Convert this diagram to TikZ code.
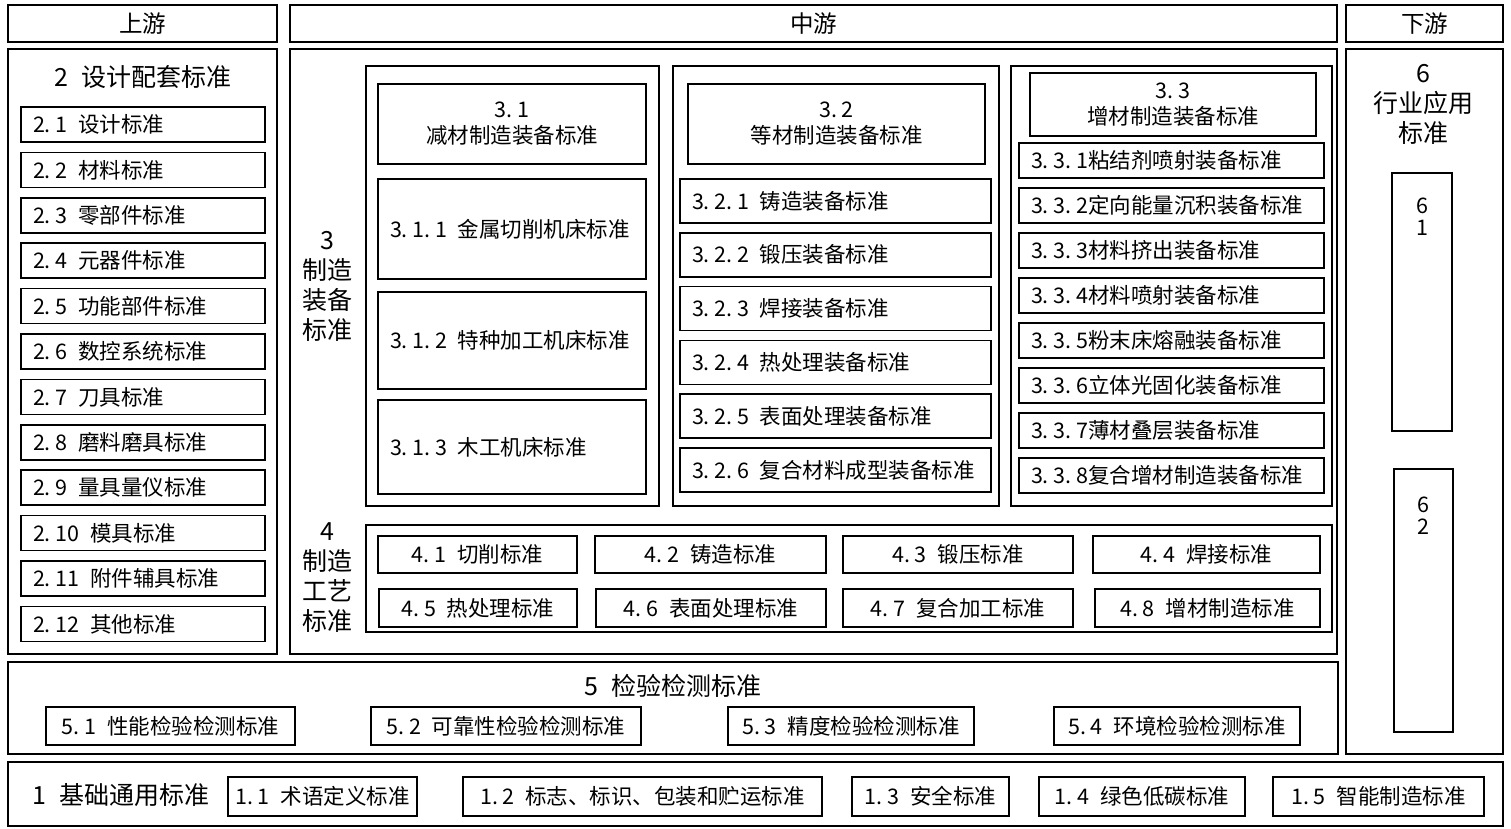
\documentclass[tikz,border=0pt]{standalone}
\usepackage{fontspec}
\setmainfont{Noto Sans CJK SC}
\newcommand{\numgap}{\hspace{0.5em}}
\newcommand{\pdot}{.\hspace{0.22em}}

\begin{document}
\begin{tikzpicture}[x=1pt, y=-1pt,
    frame/.style={draw, line width=2.2pt},
    cell/.style={draw, line width=1.6pt, inner sep=0pt, font=\fontsize{21.5}{26}\selectfont},
    lcell/.style={cell, align=left, inner xsep=12pt, text width=#1},
    head/.style={frame, minimum height=37pt, font=\fontsize{23.5}{28}\selectfont},
    big/.style={font=\fontsize{25}{30}\selectfont, align=center, inner sep=0pt},
    small/.style={font=\fontsize{21.5}{22}\selectfont, align=center, inner sep=0pt, anchor=north}]

    \useasboundingbox (0,0) rectangle (1511,829);

    \node[head, minimum width=269pt] (up) at (142.5,23.5) {上游};
    \node[head, minimum width=1047pt] (mid) at (813.5,23.5) {中游};
    \node[head, minimum width=157pt] (down) at (1424.5,23.5) {下游};

    \draw[frame] (8,49) rectangle (277,654);
    \node[big] (t2) at (143,77) {2\numgap 设计配套标准};
    \foreach \t [count=\i] in {设计标准, 材料标准, 零部件标准, 元器件标准, 功能部件标准, 数控系统标准, 刀具标准, 磨料磨具标准, 量具量仪标准, 模具标准, 附件辅具标准, 其他标准}
        \node[lcell=220pt, minimum height=35pt] (d\i) at (143, {124.5+45.4*(\i-1)}) {2\pdot\i\numgap\t};

    \draw[frame] (290,49) rectangle (1337,654);
    \node[big] (t3) at (327,286) {3\\制造\\装备\\标准};

    \draw[frame] (366,66) rectangle (659,506);
    \node[cell, minimum width=268pt, minimum height=80pt, align=center] (c31) at (512,124) {3\pdot 1\\减材制造装备标准};
    \node[lcell=244pt, minimum height=100pt] (c311) at (512,229) {3\pdot 1\pdot 1\numgap 金属切削机床标准};
    \node[lcell=244pt, minimum height=97pt] (c312) at (512,340.5) {3\pdot 1\pdot 2\numgap 特种加工机床标准};
    \node[lcell=244pt, minimum height=94pt] (c313) at (512,447) {3\pdot 1\pdot 3\numgap 木工机床标准};

    \draw[frame] (673,66) rectangle (999,506);
    \node[cell, minimum width=297pt, minimum height=80pt, align=center] (c32) at (836.5,124) {3\pdot 2\\等材制造装备标准};
    \foreach \t [count=\i] in {铸造装备标准, 锻压装备标准, 焊接装备标准, 热处理装备标准, 表面处理装备标准, 复合材料成型装备标准}
        \node[lcell=287pt, minimum height=44pt] (c32\i) at (835.5, {201+53.8*(\i-1)}) {3\pdot 2\pdot\i\numgap\t};

    \draw[frame] (1011,66) rectangle (1332,506);
    \node[cell, minimum width=286pt, minimum height=63pt, align=center] (c33) at (1173,104.5) {3\pdot 3\\增材制造装备标准};
    \foreach \t [count=\i] in {粘结剂喷射装备标准, 定向能量沉积装备标准, 材料挤出装备标准, 材料喷射装备标准, 粉末床熔融装备标准, 立体光固化装备标准, 薄材叠层装备标准, 复合增材制造装备标准}
        \node[lcell=281pt, minimum height=35pt] (c33\i) at (1171.5, {160.5+45*(\i-1)}) {3\pdot 3\pdot\i\t};

    \node[big] (t4) at (327,578) {4\\制造\\工艺\\标准};
    \draw[frame] (366,525) rectangle (1332,632);
    \foreach \t/\x/\w [count=\i] in {切削标准/477.5/199pt, 铸造标准/710.5/231pt, 锻压标准/958/230pt, 焊接标准/1206.5/227pt}
        \node[cell, minimum width=\w, minimum height=37pt] (p\i) at (\x,554.5) {4\pdot\i\numgap\t};
    \foreach \t/\x/\w [count=\i from 5] in {热处理标准/478/198pt, 表面处理标准/711/230pt, 复合加工标准/958/230pt, 增材制造标准/1207.5/225pt}
        \node[cell, minimum width=\w, minimum height=38pt] (p\i) at (\x,608) {4\pdot\i\numgap\t};

    \draw[frame] (8,662) rectangle (1338,754);
    \node[big] (t5) at (673,686) {5\numgap 检验检测标准};
    \foreach \t/\x/\w [count=\i] in {性能检验检测标准/170.5/249pt, 可靠性检验检测标准/506/270pt, 精度检验检测标准/851/246pt, 环境检验检测标准/1177/246pt}
        \node[cell, minimum width=\w, minimum height=38pt] (q\i) at (\x,726) {5\pdot\i\numgap\t};

    \draw[frame] (1346,49) rectangle (1503,754);
    \node[big] (t6) at (1423,104) {6\\行业应用\\标准};
    \node[cell, minimum width=60pt, minimum height=258pt] (b61) at (1422,302) {};
    \node[small] (n61) at ([yshift=-25pt]b61.north) {6\\1};
    \node[cell, minimum width=59pt, minimum height=263pt] (b62) at (1423.5,600.5) {};
    \node[small] (n62) at ([yshift=-28pt]b62.north) {6\\2};

    \draw[frame] (8,762) rectangle (1503,826);
    \node[big] (t1) at (121,795) {1\numgap 基础通用标准};
    \foreach \t/\x/\w [count=\i] in {术语定义标准/322.5/189pt, {标志、标识、包装和贮运标准}/642.5/359pt, 安全标准/930.5/157pt, 绿色低碳标准/1142/206pt, 智能制造标准/1378.5/211pt}
        \node[cell, minimum width=\w, minimum height=39pt] (g\i) at (\x,796.5) {1\pdot\i\numgap\t};

\end{tikzpicture}
\end{document}
